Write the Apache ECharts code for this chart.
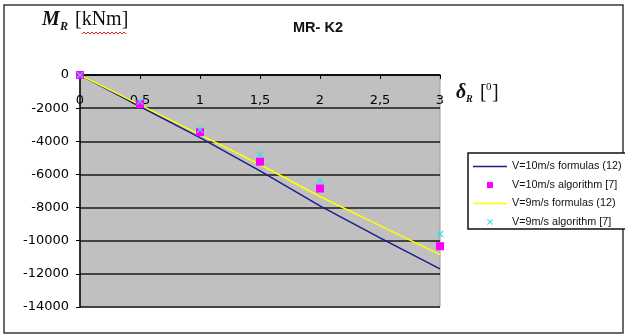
<!DOCTYPE html>
<html>
<head>
<meta charset="utf-8">
<script src="https://cdn.jsdelivr.net/npm/echarts@6/dist/echarts.min.js"></script>
<style>
  html, body { margin: 0; padding: 0; background: #fff; }
  #chart { width: 625px; height: 336px; }
</style>
</head>
<body>
<div id="chart"></div>
<script>
// Rotation angle δR [deg] and resisting moment MR [kNm]
const deltaFormula = [0, 0.5, 1, 1.5, 2, 2.5, 3];
const mrFormulaV10 = [0, -1900, -3780, -5780, -7900, -9830, -11700];
const mrFormulaV9 = [0, -1800, -3600, -5400, -7330, -9090, -10840];

const deltaAlgorithm = [0, 0.5, 1, 1.5, 2, 3];
const mrAlgorithmV10 = [0, -1750, -3450, -5230, -6850, -10330];
const mrAlgorithmV9 = [0, -1600, -3300, -4800, -6380, -9600];

const seriesNames = [
  'V=10m/s formulas (12)',
  'V=10m/s algorithm [7]',
  'V=9m/s formulas (12)',
  'V=9m/s algorithm [7]'
];

const xTicks = { min: 0, max: 3, step: 0.5 };
const yTicks = { min: -14000, max: 0, step: 2000 };

const pairs = (xs, ys) => xs.map((x, i) => [x, ys[i]]);

const SQUARE = 'path://M0,0H10V10H0Z';
const CROSS = 'path://M0,1.2L1.2,0L5,3.8L8.8,0L10,1.2L6.2,5L10,8.8L8.8,10L5,6.2L1.2,10L0,8.8L3.8,5Z';
const LINE = 'path://M0,0H34V1.5H0Z';

const sans = 'Liberation Sans, Arial, sans-serif';
const wide = 'DejaVu Sans, sans-serif';
const serif = 'Liberation Serif, Times New Roman, serif';

// red wavy underline under "kNm"
const wave = [];
for (let x = 82, k = 0; x <= 126; x += 2, k++) wave.push([x, k % 2 ? 32 : 34]);

const chart = echarts.init(document.getElementById('chart'), null, { renderer: 'canvas' });
chart.setOption({
  animation: false,
  backgroundColor: '#ffffff',
  grid: {
    left: 80, top: 75, right: 185, bottom: 29,
    show: true, backgroundColor: '#c0c0c0', borderColor: '#9a9a9a', borderWidth: 1
  },
  xAxis: {
    type: 'value', position: 'top',
    min: xTicks.min, max: xTicks.max, interval: xTicks.step,
    axisLine: { onZero: false, lineStyle: { color: '#000', width: 1.5 } },
    axisTick: { inside: true, length: 4, lineStyle: { color: '#000' } },
    axisLabel: {
      inside: true, margin: 19, color: '#000', fontFamily: wide, fontSize: 13,
      formatter: v => String(v).replace('.', ',')
    },
    splitLine: { show: false }
  },
  yAxis: {
    type: 'value',
    min: yTicks.min, max: yTicks.max, interval: yTicks.step,
    axisLine: { show: true, onZero: false, lineStyle: { color: '#000', width: 1.5 } },
    axisTick: { show: true, length: 4, lineStyle: { color: '#000' } },
    axisLabel: { margin: 11, color: '#000', fontFamily: wide, fontSize: 13, formatter: v => String(v) },
    splitLine: { show: true, lineStyle: { color: '#1a1a1a', width: 1.5 } }
  },
  legend: {
    orient: 'vertical', left: 473, top: 161, padding: 0, itemGap: 7.5,
    itemWidth: 34, itemHeight: 6,
    textStyle: { fontFamily: sans, fontSize: 10.8, color: '#111' },
    data: [
      { name: seriesNames[0], icon: LINE },
      { name: seriesNames[1], icon: SQUARE },
      { name: seriesNames[2], icon: LINE },
      { name: seriesNames[3], icon: CROSS }
    ]
  },
  graphic: [
    { type: 'rect', z: -1, shape: { x: 4, y: 5, width: 619, height: 328 },
      style: { fill: 'none', stroke: '#3a3a3a', lineWidth: 1.5 } },
    { type: 'rect', z: 0, shape: { x: 468, y: 153, width: 160, height: 76 },
      style: { fill: '#fff', stroke: '#111', lineWidth: 1.5 } },
    { type: 'text', left: 293, top: 20,
      style: { text: 'MR- K2', font: 'bold 14.5px ' + sans, fill: '#111' } },
    { type: 'text', x: 42, y: 30,
      style: { text: 'M', font: 'italic bold 20px ' + serif, fill: '#111', textVerticalAlign: 'bottom' } },
    { type: 'text', x: 60, y: 33,
      style: { text: 'R', font: 'italic bold 12px ' + serif, fill: '#111', textVerticalAlign: 'bottom' } },
    { type: 'text', x: 75, y: 30,
      style: { text: '[kNm]', font: '20px ' + serif, fill: '#111', textVerticalAlign: 'bottom' } },
    { type: 'polyline', shape: { points: wave }, style: { stroke: '#e02020', lineWidth: 1, fill: 'none' } },
    { type: 'text', x: 456, y: 103,
      style: { text: 'δ', font: 'italic bold 20px ' + serif, fill: '#111', textVerticalAlign: 'bottom' } },
    { type: 'text', x: 466, y: 104,
      style: { text: 'R', font: 'italic bold 10px ' + serif, fill: '#111', textVerticalAlign: 'bottom' } },
    { type: 'text', x: 480, y: 103,
      style: { text: '[', font: '20px ' + serif, fill: '#111', textVerticalAlign: 'bottom' } },
    { type: 'text', x: 486, y: 93,
      style: { text: '0', font: '11px ' + serif, fill: '#111', textVerticalAlign: 'bottom' } },
    { type: 'text', x: 492, y: 103,
      style: { text: ']', font: '20px ' + serif, fill: '#111', textVerticalAlign: 'bottom' } }
  ],
  series: [
    {
      name: seriesNames[0], type: 'line', symbol: 'none', z: 3,
      data: pairs(deltaFormula, mrFormulaV10),
      lineStyle: { color: '#1c1c8c', width: 1.5 }, itemStyle: { color: '#1c1c8c' }
    },
    {
      name: seriesNames[1], type: 'scatter', symbol: SQUARE, symbolSize: 8, z: 5,
      data: pairs(deltaAlgorithm, mrAlgorithmV10),
      itemStyle: { color: '#ff00ff', opacity: 1 }
    },
    {
      name: seriesNames[2], type: 'line', symbol: 'none', z: 4,
      data: pairs(deltaFormula, mrFormulaV9),
      lineStyle: { color: '#ffff00', width: 1.5 }, itemStyle: { color: '#ffff00' }
    },
    {
      name: seriesNames[3], type: 'scatter', symbol: CROSS, symbolSize: 7, z: 6,
      data: pairs(deltaAlgorithm, mrAlgorithmV9),
      itemStyle: { color: '#33e0e8', opacity: 1 }
    }
  ]
});
</script>
</body>
</html>
